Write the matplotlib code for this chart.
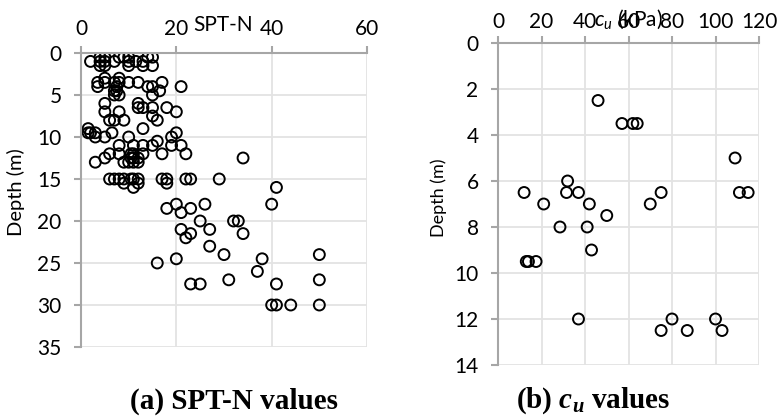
import matplotlib
matplotlib.use("Agg")
import matplotlib.pyplot as plt

plt.rcParams['font.family'] = ['Lato', 'DejaVu Sans']
plt.rcParams['mathtext.fontset'] = 'custom'
plt.rcParams['mathtext.it'] = 'Lato:italic'
plt.rcParams['mathtext.rm'] = 'Lato'
plt.rcParams['mathtext.bfit'] = 'Liberation Serif:italic:bold'

# SPT-N values
spt_n = [4, 5, 4, 5, 4, 5, 2, 7, 8, 9, 10, 10, 10, 11.5, 13, 13, 14, 15, 15,
         3.5, 3.5, 5, 5, 7, 8, 8, 7.5, 7, 7, 8, 7.5, 10, 12, 14, 15, 17, 16.5, 15, 21,
         5, 5, 8, 7, 6, 9, 12, 12, 13, 15, 18, 20, 15, 16, 13,
         1.5, 2, 1.5, 3, 3, 5, 6.5, 10, 20, 19, 16, 15, 8, 11, 13, 19, 21,
         22, 17, 6, 5, 3, 8, 9, 10.5, 11, 10.5, 12, 11, 12, 13, 34, 11, 10,
         6, 7, 8, 9, 10.5, 11, 12, 11, 12, 9, 17, 18, 18, 22, 23, 29, 41,
         20, 18, 21, 23, 26, 40, 25, 32, 33, 21, 27, 23, 22, 34, 27, 30, 50,
         16, 20, 38, 37, 31, 50, 23, 25, 41, 40, 41, 44, 50]
spt_depth = [0.5, 0.5, 1, 1, 1.5, 1.5, 1, 1, 0.5, 0.5, 0.5, 1, 1.5, 1, 1, 1.5, 0.5, 0.5, 1.5,
             3.5, 4, 3, 3.5, 3.5, 3, 3.5, 4, 4.5, 5, 5, 4.5, 3.5, 3.5, 4, 4, 3.5, 4.5, 5, 4,
             6, 7, 7, 8, 8, 8, 6, 6.5, 6.5, 6.5, 6.5, 7, 7.5, 8, 9,
             9, 9.5, 9.5, 10, 9.5, 10, 9.5, 10, 9.5, 10, 10.5, 11, 11, 11, 11, 11, 11,
             12, 12, 12, 12.5, 13, 12, 13, 12, 12, 12.5, 12.5, 13, 13, 12, 12.5, 12.5, 13,
             15, 15, 15, 15, 15, 15, 15, 16, 15.5, 15.5, 15, 15, 15.5, 15, 15, 15, 16,
             18, 18.5, 19, 18.5, 18, 18, 20, 20, 20, 21, 21, 21.5, 22, 21.5, 23, 24, 24,
             25, 24.5, 24.5, 26, 27, 27, 27.5, 27.5, 27.5, 30, 30, 30, 30]

# undrained shear strength values
cu = [46, 57, 62, 64, 109, 111, 115, 75, 70, 12, 32, 31.5, 37, 21, 42, 50,
      28.5, 41, 43, 13, 14, 17.5, 37, 75, 80, 87, 100, 103]
cu_depth = [2.5, 3.5, 3.5, 3.5, 5, 6.5, 6.5, 6.5, 7, 6.5, 6, 6.5, 6.5, 7, 7, 7.5,
            8, 8, 9, 9.5, 9.5, 9.5, 12, 12.5, 12, 12.5, 12, 12.5]

W, H = 777, 418
fig = plt.figure(figsize=(W / 100, H / 100), dpi=100)
ax1 = fig.add_axes([81 / W, 1 - 347 / H, 286 / W, 294 / H])
ax2 = fig.add_axes([498 / W, 1 - 365 / H, 261 / W, 322 / H])


def style_axis(ax, xmax, xstep, ymax, ystep, xpad):
    ax.set_xlim(0, xmax)
    ax.set_ylim(ymax, 0)
    ax.set_xticks(range(0, xmax + 1, xstep))
    ax.set_yticks(range(0, ymax + 1, ystep))
    ax.xaxis.tick_top()
    ax.grid(True, color='#e3e3e3', linewidth=1.3)
    ax.set_axisbelow(True)
    for s in ['right', 'bottom']:
        ax.spines[s].set_visible(False)
    for s in ['left', 'top']:
        ax.spines[s].set_color('#a6a6a6')
        ax.spines[s].set_linewidth(1.5)
    ax.tick_params(axis='both', colors='#a6a6a6', labelcolor='black',
                   labelsize=15, length=5, width=1.5)
    ax.tick_params(axis='x', pad=xpad)
    ax.tick_params(axis='y', pad=9)


style_axis(ax1, 60, 20, 35, 5, 5)
style_axis(ax2, 120, 20, 14, 2, 3)

ax1.scatter(spt_n, spt_depth, s=62, facecolors='none', edgecolors='black', linewidths=1.4)
ax2.scatter(cu, cu_depth, s=62, facecolors='none', edgecolors='black', linewidths=1.4)

ax1.set_ylabel('Depth (m)', fontsize=14.5, va='center')
ax1.yaxis.set_label_coords(-0.227, 0.527)
ax2.set_ylabel('Depth (m)', fontsize=13, va='center')
ax2.yaxis.set_label_coords(-0.226, 0.519)

fig.text(223 / W, 1 - 25 / H, 'SPT-N', fontsize=15, ha='center', va='center')
fig.text(628 / W, 1 - 19 / H, r'$c_u$ (kPa)', fontsize=15, ha='center', va='center')

fig.text(234 / W, 1 - 401 / H, '(a) SPT-N values', fontsize=21, fontweight='bold',
         family='Liberation Serif', ha='center', va='center')
fig.text(593 / W, 1 - 401 / H, r'(b) $\mathbfit{c_u}$ values', fontsize=21,
         fontweight='bold', family='Liberation Serif', ha='center', va='center')

fig.savefig('out.png', dpi=100)
